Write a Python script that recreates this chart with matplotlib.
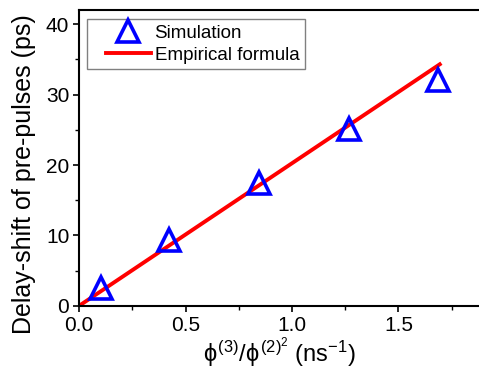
import matplotlib
matplotlib.use('Agg')
import numpy as np
import matplotlib.pyplot as plt
from matplotlib.ticker import MultipleLocator
from matplotlib.legend_handler import HandlerLine2D

plt.rcParams['font.family'] = ['Liberation Sans', 'DejaVu Sans']
plt.rcParams['mathtext.fontset'] = 'custom'
plt.rcParams['mathtext.rm'] = 'Liberation Sans'
plt.rcParams['mathtext.it'] = 'Liberation Sans'

# simulation points
sim_x = [0.103, 0.423, 0.843, 1.266, 1.686]
sim_y = [2.6, 9.4, 17.4, 25.1, 32.1]

# empirical formula line
fit_x = [0.0, 1.694]
fit_y = [0.0, 34.3]


class ShiftedHandler(HandlerLine2D):
    # line drawn in the right part of the handle box, marker centred there
    def get_xdata(self, legend, xdescent, ydescent, width, height, fontsize):
        x0 = -xdescent + 0.23 * width
        x1 = -xdescent + width
        return np.array([x0, x1]), np.array([-xdescent + 0.61 * width])


fig = plt.figure(figsize=(4.79, 3.73), dpi=100)
ax = fig.add_axes([0.165, 0.18, 0.838, 0.793])

ax.plot(fit_x, fit_y, color='red', lw=2.8, label='Empirical formula', zorder=2)
ax.plot(sim_x, sim_y, ls='none', marker='^', ms=16, mfc='none', mec='blue',
        mew=2.6, label='Simulation', zorder=3)

ax.set_xlim(0, 1.885)
ax.set_ylim(0, 42)
ax.xaxis.set_major_locator(MultipleLocator(0.5))
ax.xaxis.set_minor_locator(MultipleLocator(0.25))
ax.yaxis.set_major_locator(MultipleLocator(10))
ax.yaxis.set_minor_locator(MultipleLocator(5))
ax.tick_params(which='major', direction='out', length=4, width=1.2, labelsize=15, pad=3)
ax.tick_params(which='minor', direction='out', length=3, width=1.0)
ax.xaxis.set_major_formatter(plt.FuncFormatter(lambda v, p: '{:.1f}'.format(v)))
for s in ax.spines.values():
    s.set_linewidth(1.5)

ax.set_ylabel('Delay-shift of pre-pulses (ps)', fontsize=18)
ax.yaxis.set_label_coords(-0.107, 0.446)
ax.set_xlabel(r'$\phi^{(3)}/\phi^{(2)^2}$ (ns$^{-1}$)', fontsize=17, labelpad=1)

handles, labels = ax.get_legend_handles_labels()
leg = ax.legend(handles[::-1], labels[::-1], loc='upper left', fontsize=13.5,
                fancybox=False, edgecolor='gray', framealpha=1,
                borderpad=0.3, handlelength=3.1, handletextpad=0.2,
                labelspacing=0.25, borderaxespad=0,
                bbox_to_anchor=(0.02, 0.97),
                handler_map={h: ShiftedHandler(numpoints=1) for h in handles})
leg.get_frame().set_linewidth(1.0)

fig.savefig('out.png', dpi=100)
